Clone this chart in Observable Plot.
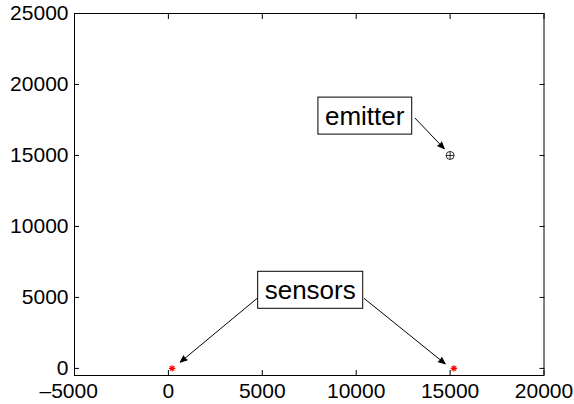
<!DOCTYPE html>
<html>
<head>
<meta charset="utf-8">
<script src="https://cdn.jsdelivr.net/npm/d3@7"></script>
<script src="https://cdn.jsdelivr.net/npm/@observablehq/plot@0.6"></script>
<style>
  html, body { margin: 0; padding: 0; background: #fff; }
  svg { display: block; }
</style>
</head>
<body>
<div id="chart"></div>
<script>
// ---- data ----
const xTicks = [-5000, 0, 5000, 10000, 15000, 20000];
const yTicks = [0, 5000, 10000, 15000, 20000, 25000];

const sensorX = [200, 15200];
const sensorY = [0, 0];

const emitterX = [15000];
const emitterY = [15000];

const labelText = ["emitter", "sensors"];
const labelX = [10450, 7550];
const labelY = [17760, 5490];

const arrowX1 = [13140, 4710, 10430];
const arrowY1 = [17620, 4920, 4920];
const arrowX2 = [14690, 630, 14740];
const arrowY2 = [15470, 440, 320];

// ---- custom symbols ----
const asterisk8 = {
  draw(ctx, size) {
    const r = Math.sqrt(size / Math.PI);
    for (let k = 0; k < 4; k++) {
      const a = k * Math.PI / 4;
      const dx = r * Math.cos(a), dy = r * Math.sin(a);
      ctx.moveTo(-dx, -dy);
      ctx.lineTo(dx, dy);
    }
  }
};
const circlePlus = {
  draw(ctx, size) {
    const r = Math.sqrt(size / Math.PI);
    ctx.moveTo(r, 0);
    ctx.arc(0, 0, r, 0, 2 * Math.PI);
    ctx.moveTo(-r, 0); ctx.lineTo(r, 0);
    ctx.moveTo(0, -r); ctx.lineTo(0, r);
  }
};

const fmt = d => d < 0 ? "\u2013" + Math.abs(d) : String(d);
const arrows = arrowX1.map((_, i) => i);
const FONT = "'Liberation Sans', Arial, Helvetica, sans-serif";

const plot = Plot.plot({
  width: 574,
  height: 404,
  marginLeft: 74,
  marginRight: 30.5,
  marginTop: 13,
  marginBottom: 29,
  style: { fontFamily: FONT, fontSize: "21px", color: "black", background: "white" },
  x: { domain: [-5000, 20000], label: null },
  y: { domain: [-500, 25000], label: null },
  marks: [
    Plot.frame({ stroke: "black", strokeWidth: 1 }),
    // inward ticks on all four sides
    Plot.axisX(xTicks, { anchor: "bottom", tickSize: -5, tickFormat: () => "", label: null, strokeWidth: 1 }),
    Plot.axisX(xTicks, { anchor: "top", tickSize: -5, tickFormat: () => "", label: null, strokeWidth: 1 }),
    Plot.axisY(yTicks, { anchor: "left", tickSize: -5, tickFormat: () => "", label: null, strokeWidth: 1 }),
    Plot.axisY(yTicks, { anchor: "right", tickSize: -5, tickFormat: () => "", label: null, strokeWidth: 1 }),
    // tick labels
    Plot.axisX(xTicks, { anchor: "bottom", tickSize: 0, tickPadding: 8, tickFormat: fmt, label: null, fontSize: 21, className: "xlab" }),
    Plot.axisY(yTicks, { anchor: "left", tickSize: 0, tickPadding: 6, tickFormat: fmt, label: null, fontSize: 21 }),
    // arrows
    Plot.arrow(arrows, {
      x1: i => arrowX1[i], y1: i => arrowY1[i],
      x2: i => arrowX2[i], y2: i => arrowY2[i],
      stroke: "black", strokeWidth: 1, headLength: 11, headAngle: 45, className: "arr"
    }),
    // sensors
    Plot.dot(sensorX, { x: d => d, y: (d, i) => sensorY[i], symbol: asterisk8, r: 3.2, stroke: "red", strokeWidth: 1.2, fill: "none" }),
    // emitter
    Plot.dot(emitterX, { x: d => d, y: (d, i) => emitterY[i], symbol: circlePlus, r: 4, stroke: "black", strokeWidth: 0.8, fill: "none" }),
    // annotation labels
    Plot.text(labelText, { x: (d, i) => labelX[i], y: (d, i) => labelY[i], text: d => d, fontSize: 26, fill: "black", className: "annot" })
  ]
});

document.getElementById("chart").appendChild(plot);

// filled arrow heads
d3.select(plot).selectAll("g.arr path").attr("fill", "black").attr("stroke-linejoin", "miter");

// boxes behind annotation texts
d3.select(plot).selectAll("g.annot text").each(function () {
  const b = this.getBBox();
  const padX = 7, padY = 3.5;
  d3.select(this.parentNode).insert("rect", () => this)
    .attr("transform", this.getAttribute("transform"))
    .attr("x", b.x - padX).attr("y", b.y - padY)
    .attr("width", b.width + 2 * padX).attr("height", b.height + 2 * padY)
    .attr("fill", "white").attr("stroke", "black").attr("stroke-width", 1);
});

// MATLAB centres the digits of negative labels on the tick
d3.select(plot).selectAll("g.xlab text").each(function () {
  if (this.textContent.startsWith("\u2013")) {
    const w = this.getBBox().width;
    const digits = this.textContent.slice(1);
    this.setAttribute("dx", -(w - w * digits.length / (digits.length + 1)) / 2 + "");
  }
});
</script>
</body>
</html>
